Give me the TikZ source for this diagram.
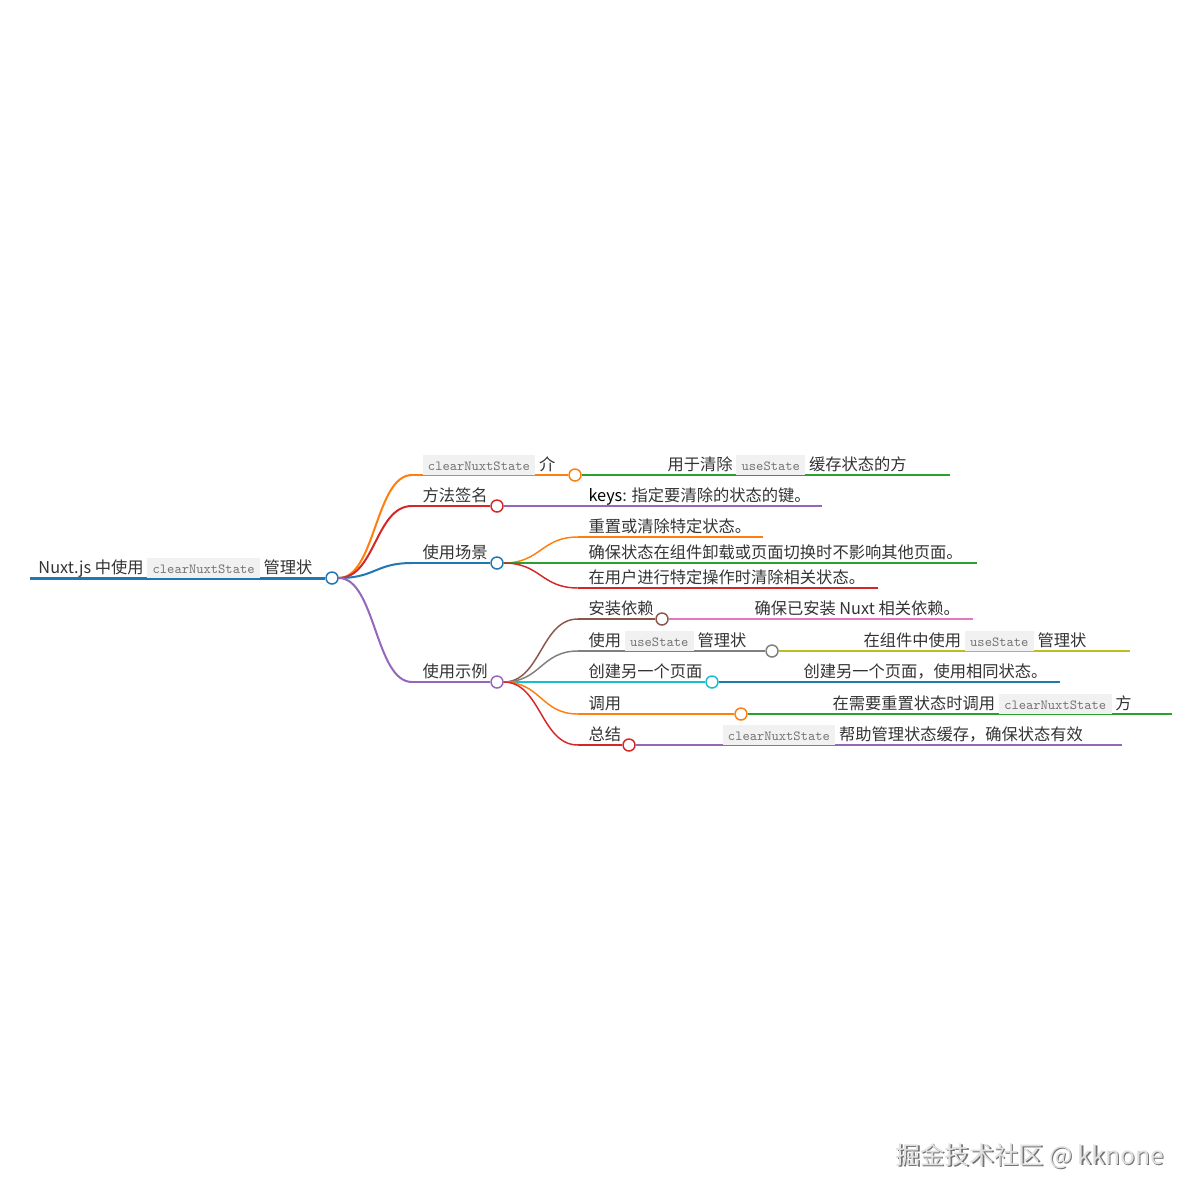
\documentclass[tikz,border=0pt]{standalone}
\usepackage{fontspec}
\setmainfont{Noto Sans CJK SC}
\usetikzlibrary{calc}

\definecolor{mmblue}{RGB}{31,119,180}
\definecolor{mmorange}{RGB}{255,127,14}
\definecolor{mmgreen}{RGB}{44,160,44}
\definecolor{mmred}{RGB}{214,39,40}
\definecolor{mmpurple}{RGB}{148,103,189}
\definecolor{mmbrown}{RGB}{140,86,75}
\definecolor{mmpink}{RGB}{227,119,194}
\definecolor{mmgray}{RGB}{127,127,127}
\definecolor{mmolive}{RGB}{188,189,34}
\definecolor{mmcyan}{RGB}{23,190,207}
\definecolor{codebg}{RGB}{241,241,241}
\definecolor{codefg}{RGB}{115,115,115}
\definecolor{txt}{RGB}{51,51,51}

% inline code box
\newcommand{\code}[1]{{\setlength{\fboxsep}{1.5pt}\colorbox{codebg}{\hspace{2.6pt}\rule[-2pt]{0pt}{11.75pt}\ttfamily\fontsize{10.4}{11}\selectfont\color{codefg}#1\hspace{2.6pt}}}}
% curved link between two points
\newcommand{\link}[3]{\draw[#1] let \p1=(#2), \p2=(#3) in (\p1) .. controls ({(\x1+\x2)/2},\y1) and ({(\x1+\x2)/2},\y2) .. (\p2);}

\tikzset{every picture/.style={line width=0.75pt},
  lbl/.style={anchor=base west,inner sep=0pt,font=\fontsize{12.2}{14}\selectfont,text=txt},
  dot/.style={circle,draw=#1,fill=white,line width=1.1pt,minimum size=9pt,inner sep=0pt},
  lv0/.style={line width=2.25pt},
  lv1/.style={line width=1.5pt},
  lv2/.style={line width=1.1pt}}

\begin{document}
\begin{tikzpicture}[x=0.75pt,y=0.75pt,yscale=-1,xscale=1]
\useasboundingbox (0,0) rectangle (1200,1200);

%Root
\coordinate (rootL) at (30,578);
\node[dot=mmblue] (root) at (332,578) {};
\draw[mmblue,lv0] (rootL) -- (root.west);
\node[lbl] (rootT) at (38,573) {Nuxt.js 中使用 \code{clearNuxtState} 管理状};

%Intro
\coordinate (introL) at (412,475);
\node[dot=mmorange] (intro) at (575,475) {};
\link{mmorange,lv1}{root.east}{introL}
\draw[mmorange,lv1] (introL) -- (intro.west);
\node[lbl] (introT) at (422,470) {\code{clearNuxtState} 介};
\coordinate (introE) at (950,475);
\draw[mmgreen,lv2] (intro.east) -- (introE);
\node[lbl] (introD) at (667,470) {用于清除 \code{useState} 缓存状态的方};

%Signature
\coordinate (sigL) at (412,506);
\node[dot=mmred] (sig) at (497,506) {};
\link{mmred,lv1}{root.east}{sigL}
\draw[mmred,lv1] (sigL) -- (sig.west);
\node[lbl] (sigT) at (422,501) {方法签名};
\coordinate (sigE) at (822,506);
\draw[mmpurple,lv2] (sig.east) -- (sigE);
\node[lbl] (sigD) at (588,501) {{\color{black}keys}: 指定要清除的状态的键。};

%Scenes
\coordinate (sceneL) at (412,563);
\node[dot=mmblue] (scene) at (497,563) {};
\link{mmblue,lv1}{root.east}{sceneL}
\draw[mmblue,lv1] (sceneL) -- (scene.west);
\node[lbl] (sceneT) at (422,558) {使用场景};

\coordinate (scA) at (578,537);
\coordinate (scAE) at (763,537);
\link{mmorange,lv2}{scene.east}{scA}
\draw[mmorange,lv2] (scA) -- (scAE);
\node[lbl] (scAT) at (588,532) {重置或清除特定状态。};

\coordinate (scB) at (578,563);
\coordinate (scBE) at (977,563);
\draw[mmgreen,lv2] (scene.east) -- (scB) -- (scBE);
\node[lbl] (scBT) at (588,558) {确保状态在组件卸载或页面切换时不影响其他页面。};

\coordinate (scC) at (578,588);
\coordinate (scCE) at (878,588);
\link{mmred,lv2}{scene.east}{scC}
\draw[mmred,lv2] (scC) -- (scCE);
\node[lbl] (scCT) at (588,583) {在用户进行特定操作时清除相关状态。};

%Examples
\coordinate (demoL) at (412,682);
\node[dot=mmpurple] (demo) at (497,682) {};
\link{mmpurple,lv1}{root.east}{demoL}
\draw[mmpurple,lv1] (demoL) -- (demo.west);
\node[lbl] (demoT) at (422,677) {使用示例};

% install
\coordinate (depL) at (578,619);
\node[dot=mmbrown] (dep) at (662,619) {};
\link{mmbrown,lv2}{demo.east}{depL}
\draw[mmbrown,lv2] (depL) -- (dep.west);
\node[lbl] (depT) at (588,614) {安装依赖};
\coordinate (depE) at (973,619);
\draw[mmpink,lv2] (dep.east) -- (depE);
\node[lbl] (depD) at (754,614) {确保已安装 Nuxt 相关依赖。};

% useState
\coordinate (useL) at (578,651);
\node[dot=mmgray] (use) at (772,651) {};
\link{mmgray,lv2}{demo.east}{useL}
\draw[mmgray,lv2] (useL) -- (use.west);
\node[lbl] (useT) at (588,646) {使用 \code{useState} 管理状};
\coordinate (useE) at (1130,651);
\draw[mmolive,lv2] (use.east) -- (useE);
\node[lbl] (useD) at (863,646) {在组件中使用 \code{useState} 管理状};

% new page
\coordinate (pageL) at (578,682);
\node[dot=mmcyan] (page) at (712,682) {};
\draw[mmcyan,lv2] (demo.east) -- (pageL) -- (page.west);
\node[lbl] (pageT) at (588,677) {创建另一个页面};
\coordinate (pageE) at (1060,682);
\draw[mmblue,lv2] (page.east) -- (pageE);
\node[lbl] (pageD) at (803,677) {创建另一个页面，使用相同状态。};

% call
\coordinate (callL) at (578,714);
\node[dot=mmorange] (call) at (741,714) {};
\link{mmorange,lv2}{demo.east}{callL}
\draw[mmorange,lv2] (callL) -- (call.west);
\node[lbl] (callT) at (588,709) {调用};
\coordinate (callE) at (1172,714);
\draw[mmgreen,lv2] (call.east) -- (callE);
\node[lbl] (callD) at (832,709) {在需要重置状态时调用 \code{clearNuxtState} 方};

% summary
\coordinate (sumL) at (578,745);
\node[dot=mmred] (sum) at (629,745) {};
\link{mmred,lv2}{demo.east}{sumL}
\draw[mmred,lv2] (sumL) -- (sum.west);
\node[lbl] (sumT) at (588,740) {总结};
\coordinate (sumE) at (1122,745);
\draw[mmpurple,lv2] (sum.east) -- (sumE);
\node[lbl] (sumD) at (722,740) {\code{clearNuxtState} 帮助管理状态缓存，确保状态有效};

%Watermark
\node[anchor=base west,inner sep=0pt,font=\fontsize{18.5}{20}\selectfont,text=black!55] (wmS) at (896.5,1165.5) {掘金技术社区 @ kknone};
\node[anchor=base west,inner sep=0pt,font=\fontsize{18.5}{20}\selectfont,text=black!12] (wm) at (895,1164) {掘金技术社区 @ kknone};

\end{tikzpicture}
\end{document}
